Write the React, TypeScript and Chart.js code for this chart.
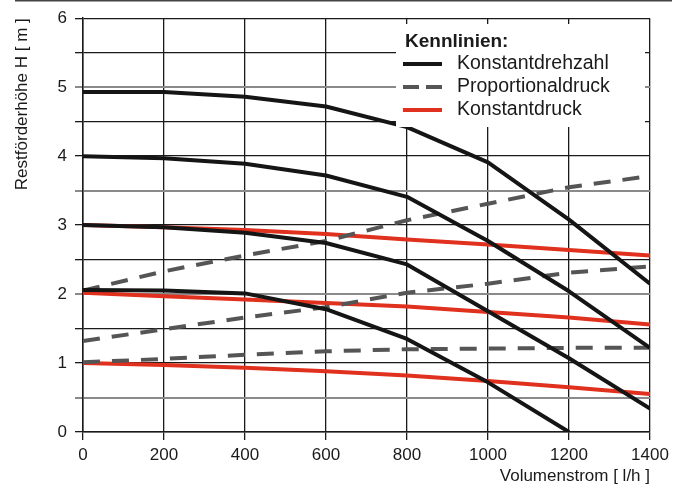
import React, { useEffect, useRef } from 'react';
import { Chart, registerables } from 'chart.js';

Chart.register(...registerables);

const flowRates = [0, 200, 400, 600, 800, 1000, 1200, 1400];
const yTicks = [0, 1, 2, 3, 4, 5, 6];

const constSpeed1 = [4.93, 4.93, 4.86, 4.72, 4.42, 3.91, 3.08, 2.15];
const constSpeed2 = [4.0, 3.97, 3.89, 3.72, 3.41, 2.77, 2.04, 1.22];
const constSpeed3 = [3.0, 2.97, 2.89, 2.74, 2.43, 1.75, 1.07, 0.34];
const constSpeed4 = [2.06, 2.05, 2.01, 1.78, 1.35, 0.72, 0.0];

const propPressure1 = [2.05, 2.33, 2.56, 2.77, 3.07, 3.31, 3.55, 3.71];
const propPressure2 = [1.32, 1.49, 1.66, 1.81, 2.02, 2.15, 2.31, 2.4];
const propPressure3 = [1.01, 1.06, 1.12, 1.17, 1.2, 1.21, 1.22, 1.22];

const constPressure1 = [3.0, 2.97, 2.93, 2.87, 2.79, 2.72, 2.64, 2.56];
const constPressure2 = [2.02, 1.97, 1.92, 1.87, 1.82, 1.74, 1.66, 1.56];
const constPressure3 = [1.0, 0.97, 0.93, 0.88, 0.82, 0.74, 0.65, 0.55];

const legendTitle = 'Kennlinien:';
const legendLabels = ['Konstantdrehzahl', 'Proportionaldruck', 'Konstantdruck'];
const xTitle = 'Volumenstrom [ l/h ]';
const yTitle = 'Restförderhöhe H [ m ]';

const FONT = '"Liberation Sans", Arial, Helvetica, sans-serif';
const INK = '#1a1a1a';
const BLACK = '#151515';
const GRAY = '#555555';
const RED = '#e0301e';
const grayGridValues = [0.5, 2, 3.5, 5];

const toPoints = (vals: number[]) => vals.map((v, i) => ({ x: flowRates[i], y: v }));

const lineDs = (vals: number[], color: string, dashed: boolean, label: string) => ({
  label,
  data: toPoints(vals),
  borderColor: color,
  backgroundColor: color,
  borderWidth: 4,
  borderDash: dashed ? [17, 12] : [],
  pointRadius: 0,
  tension: 0,
  fill: false,
  borderCapStyle: 'butt' as const,
  borderJoinStyle: 'round' as const,
});

const overlayPlugin = {
  id: 'overlay',
  beforeDraw(chart: any) {
    const ctx = chart.ctx;
    ctx.save();
    ctx.fillStyle = '#444444';
    ctx.fillRect(15, 0, 657, 1.5);
    ctx.restore();
  },
  afterDatasetsDraw(chart: any) {
    const ctx = chart.ctx;
    ctx.save();
    ctx.fillStyle = '#ffffff';
    ctx.fillRect(396, 24, 249, 103);
    ctx.fillStyle = INK;
    ctx.textBaseline = 'middle';
    ctx.textAlign = 'left';
    ctx.font = `bold 19px ${FONT}`;
    ctx.fillText(legendTitle, 405, 42);
    ctx.font = `19.5px ${FONT}`;
    const colors = [BLACK, GRAY, RED];
    const rowsY = [64, 87, 110];
    legendLabels.forEach((lab, i) => {
      const y = rowsY[i];
      ctx.strokeStyle = colors[i];
      ctx.lineWidth = 4;
      ctx.setLineDash(i === 1 ? [16, 7] : []);
      ctx.beginPath();
      ctx.moveTo(403, y);
      ctx.lineTo(442, y);
      ctx.stroke();
      ctx.setLineDash([]);
      ctx.fillStyle = INK;
      ctx.fillText(lab, 457, y);
    });
    ctx.restore();
  },
};

export default function App() {
  const ref = useRef<HTMLCanvasElement | null>(null);

  useEffect(() => {
    if (!ref.current) return;
    const chart = new Chart(ref.current, {
      type: 'line',
      data: {
        datasets: [
          lineDs(constSpeed1, BLACK, false, legendLabels[0]),
          lineDs(constSpeed2, BLACK, false, legendLabels[0]),
          lineDs(constSpeed3, BLACK, false, legendLabels[0]),
          lineDs(constSpeed4, BLACK, false, legendLabels[0]),
          lineDs(propPressure1, GRAY, true, legendLabels[1]),
          lineDs(propPressure2, GRAY, true, legendLabels[1]),
          lineDs(propPressure3, GRAY, true, legendLabels[1]),
          lineDs(constPressure1, RED, false, legendLabels[2]),
          lineDs(constPressure2, RED, false, legendLabels[2]),
          lineDs(constPressure3, RED, false, legendLabels[2]),
        ],
      },
      options: {
        animation: false,
        responsive: false,
        devicePixelRatio: 1,
        layout: { padding: { left: 0, top: 15, right: 34, bottom: 0 } },
        plugins: {
          legend: { display: false },
          tooltip: { enabled: false },
        },
        scales: {
          x: {
            type: 'linear',
            min: flowRates[0],
            max: flowRates[flowRates.length - 1],
            afterFit: (s: any) => {
              s.height = 60;
            },
            ticks: {
              stepSize: 200,
              autoSkip: false,
              maxRotation: 0,
              padding: 5,
              color: INK,
              font: { family: FONT, size: 17 },
              callback: (v: any) => String(v),
            },
            grid: { color: INK, lineWidth: 1.3, tickLength: 8 },
            border: { display: true, color: INK, width: 1.5 },
            title: {
              display: true,
              text: xTitle,
              align: 'end',
              color: INK,
              font: { family: FONT, size: 17 },
              padding: { top: 0, bottom: 5 },
            },
          },
          y: {
            type: 'linear',
            min: yTicks[0],
            max: yTicks[yTicks.length - 1],
            afterFit: (s: any) => {
              s.width = 83;
            },
            ticks: {
              stepSize: 0.5,
              autoSkip: false,
              padding: 8,
              color: INK,
              font: { family: FONT, size: 17 },
              callback: (v: any) => (yTicks.includes(Number(v)) ? String(v) : ''),
            },
            grid: {
              color: (c: any) => (grayGridValues.includes(c.tick?.value) ? '#8a8a8a' : INK),
              lineWidth: (c: any) => (grayGridValues.includes(c.tick?.value) ? 2 : 1.3),
              tickLength: 8,
            },
            border: { display: true, color: INK, width: 1.5 },
            title: {
              display: true,
              text: yTitle,
              align: 'end',
              color: INK,
              font: { family: FONT, size: 17 },
              padding: { top: 12, bottom: 0 },
            },
          },
        },
      },
      plugins: [overlayPlugin],
    } as any);
    return () => chart.destroy();
  }, []);

  return (
    <div style={{ position: 'absolute', left: 0, top: 0, width: 684, height: 492, background: '#fff' }}>
      <canvas ref={ref} width={684} height={492} style={{ width: 684, height: 492 }} />
    </div>
  );
}
